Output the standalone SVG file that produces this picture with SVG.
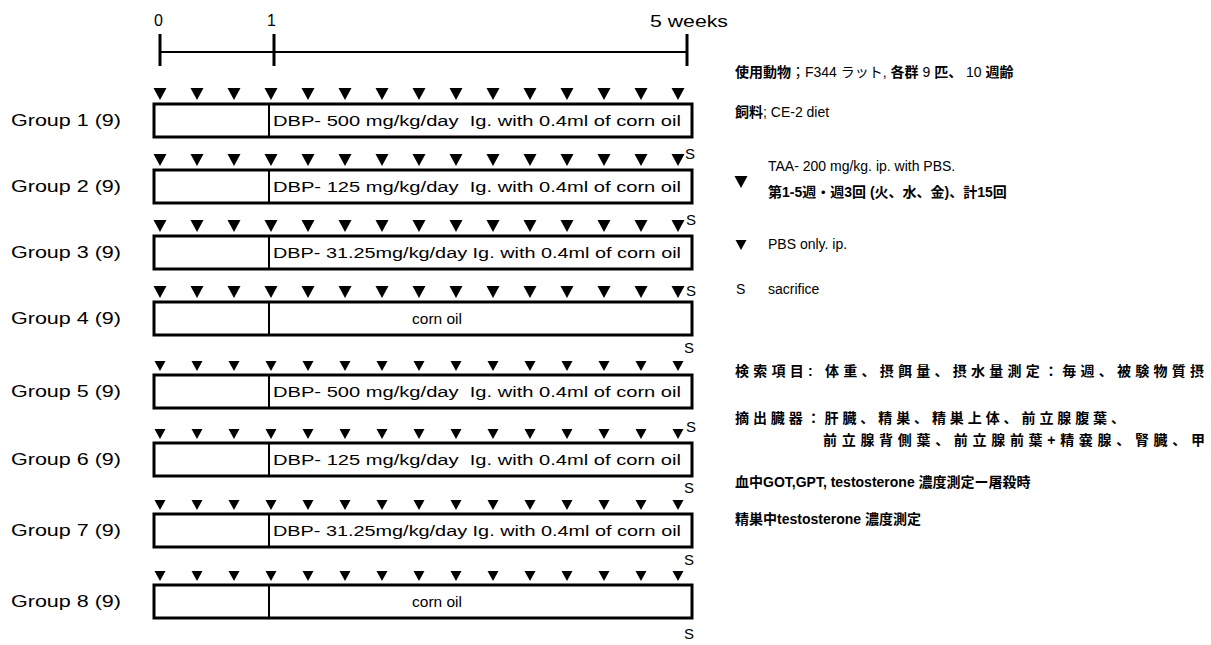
<svg xmlns="http://www.w3.org/2000/svg" xmlns:xlink="http://www.w3.org/1999/xlink" width="1211" height="645" viewBox="0 0 1211 645">
<style>
.lat{font-family:"Liberation Sans",Arial,sans-serif;fill:#000}
.lbl{font-size:16px}
.box{fill:#fff;stroke:#000;stroke-width:3}
.div{stroke:#000;stroke-width:2}
.bt{font-size:15.5px}
.s{font-size:15px}
.jp{font-family:"Liberation Sans","Noto Sans CJK JP",sans-serif;font-size:14px;font-weight:bold;fill:#000}
.rt{font-family:"Liberation Sans","Noto Sans CJK JP",sans-serif;font-size:14px;fill:#000}
.n{font-weight:normal}
</style>
<defs>
<path id="tb" d="M-6.5,0 L6.5,0 L0,12 Z" fill="#000"/>
<path id="ts" d="M-5.5,0 L5.5,0 L0,10 Z" fill="#000"/>
<g id="rowb">
<use xlink:href="#tb" x="160"/><use xlink:href="#tb" x="197"/><use xlink:href="#tb" x="234"/><use xlink:href="#tb" x="271"/><use xlink:href="#tb" x="308"/><use xlink:href="#tb" x="345"/><use xlink:href="#tb" x="382"/><use xlink:href="#tb" x="419"/><use xlink:href="#tb" x="456"/><use xlink:href="#tb" x="493"/><use xlink:href="#tb" x="530"/><use xlink:href="#tb" x="567"/><use xlink:href="#tb" x="604"/><use xlink:href="#tb" x="641"/><use xlink:href="#tb" x="678"/>
</g>
<g id="rows">
<use xlink:href="#ts" x="160"/><use xlink:href="#ts" x="197"/><use xlink:href="#ts" x="234"/><use xlink:href="#ts" x="271"/><use xlink:href="#ts" x="308"/><use xlink:href="#ts" x="345"/><use xlink:href="#ts" x="382"/><use xlink:href="#ts" x="419"/><use xlink:href="#ts" x="456"/><use xlink:href="#ts" x="493"/><use xlink:href="#ts" x="530"/><use xlink:href="#ts" x="567"/><use xlink:href="#ts" x="604"/><use xlink:href="#ts" x="641"/><use xlink:href="#ts" x="678"/>
</g>
</defs>
<rect width="1211" height="645" fill="#fff"/>

<g id="timeline">
<line x1="160" y1="52" x2="687" y2="52" stroke="#000" stroke-width="2"/>
<line x1="160" y1="34" x2="160" y2="66" stroke="#000" stroke-width="3"/>
<line x1="274" y1="34" x2="274" y2="66" stroke="#000" stroke-width="3"/>
<line x1="687" y1="34" x2="687" y2="66" stroke="#000" stroke-width="3"/>
<text class="lat" x="154" y="26" font-size="16">0</text>
<text class="lat" x="267" y="26" font-size="16">1</text>
<text class="lat" x="650" y="27" font-size="16" textLength="78" lengthAdjust="spacingAndGlyphs">5 weeks</text>
</g>

<g id="group1">
<use xlink:href="#rowb" y="88"/>
<rect class="box" x="154" y="104" width="538" height="33"/>
<line class="div" x1="269" y1="104" x2="269" y2="137"/>
<text class="lat lbl" x="11" y="126" textLength="110" lengthAdjust="spacingAndGlyphs">Group 1 (9)</text>
<text class="lat bt" x="273" y="126" textLength="408" lengthAdjust="spacingAndGlyphs">DBP- 500 mg/kg/day&#160; Ig. with 0.4ml of corn oil</text>
<text class="lat s" x="685" y="159">S</text>
</g>

<g id="group2">
<use xlink:href="#rowb" y="154"/>
<rect class="box" x="154" y="170" width="538" height="33"/>
<line class="div" x1="269" y1="170" x2="269" y2="203"/>
<text class="lat lbl" x="11" y="192" textLength="110" lengthAdjust="spacingAndGlyphs">Group 2 (9)</text>
<text class="lat bt" x="273" y="192" textLength="408" lengthAdjust="spacingAndGlyphs">DBP- 125 mg/kg/day&#160; Ig. with 0.4ml of corn oil</text>
<text class="lat s" x="686" y="225">S</text>
</g>

<g id="group3">
<use xlink:href="#rowb" y="220"/>
<rect class="box" x="154" y="236" width="538" height="33"/>
<line class="div" x1="269" y1="236" x2="269" y2="269"/>
<text class="lat lbl" x="11" y="258" textLength="110" lengthAdjust="spacingAndGlyphs">Group 3 (9)</text>
<text class="lat bt" x="273" y="258" textLength="408" lengthAdjust="spacingAndGlyphs">DBP- 31.25mg/kg/day Ig. with 0.4ml of corn oil</text>
<text class="lat s" x="686" y="296">S</text>
</g>

<g id="group4">
<use xlink:href="#rowb" y="286"/>
<rect class="box" x="154" y="302" width="538" height="33"/>
<line class="div" x1="269" y1="302" x2="269" y2="335"/>
<text class="lat lbl" x="11" y="324" textLength="110" lengthAdjust="spacingAndGlyphs">Group 4 (9)</text>
<text class="lat bt" x="437" y="324" text-anchor="middle">corn oil</text>
<text class="lat s" x="684" y="353">S</text>
</g>

<g id="group5">
<use xlink:href="#rows" y="361"/>
<rect class="box" x="154" y="375" width="538" height="33"/>
<line class="div" x1="269" y1="375" x2="269" y2="408"/>
<text class="lat lbl" x="11" y="397" textLength="110" lengthAdjust="spacingAndGlyphs">Group 5 (9)</text>
<text class="lat bt" x="273" y="397" textLength="408" lengthAdjust="spacingAndGlyphs">DBP- 500 mg/kg/day&#160; Ig. with 0.4ml of corn oil</text>
<text class="lat s" x="686" y="432">S</text>
</g>

<g id="group6">
<use xlink:href="#rows" y="429"/>
<rect class="box" x="154" y="443" width="538" height="33"/>
<line class="div" x1="269" y1="443" x2="269" y2="476"/>
<text class="lat lbl" x="11" y="465" textLength="110" lengthAdjust="spacingAndGlyphs">Group 6 (9)</text>
<text class="lat bt" x="273" y="465" textLength="408" lengthAdjust="spacingAndGlyphs">DBP- 125 mg/kg/day&#160; Ig. with 0.4ml of corn oil</text>
<text class="lat s" x="684" y="493">S</text>
</g>

<g id="group7">
<use xlink:href="#rows" y="500"/>
<rect class="box" x="154" y="514" width="538" height="33"/>
<line class="div" x1="269" y1="514" x2="269" y2="547"/>
<text class="lat lbl" x="11" y="536" textLength="110" lengthAdjust="spacingAndGlyphs">Group 7 (9)</text>
<text class="lat bt" x="273" y="536" textLength="408" lengthAdjust="spacingAndGlyphs">DBP- 31.25mg/kg/day Ig. with 0.4ml of corn oil</text>
<text class="lat s" x="684" y="565">S</text>
</g>

<g id="group8">
<use xlink:href="#rows" y="571"/>
<rect class="box" x="154" y="585" width="538" height="33"/>
<line class="div" x1="269" y1="585" x2="269" y2="618"/>
<text class="lat lbl" x="11" y="607" textLength="110" lengthAdjust="spacingAndGlyphs">Group 8 (9)</text>
<text class="lat bt" x="437" y="607" text-anchor="middle">corn oil</text>
<text class="lat s" x="684" y="639">S</text>
</g>

<g id="notes">
<text class="jp" x="735" y="77">使用動物<tspan class="n">；F344 ラット, </tspan>各群<tspan class="n"> 9 </tspan>匹、<tspan class="n"> 10 </tspan>週齢</text>
<text class="jp" x="735" y="117">飼料<tspan class="n">; CE-2 diet</tspan></text>
<use xlink:href="#tb" x="741" y="176"/>
<text class="rt" x="768" y="171" font-size="13.5">TAA- 200 mg/kg. ip. with PBS.</text>
<text class="jp" x="768" y="197">第1-5週・週3回 (火、水、金)、計15回</text>
<use xlink:href="#ts" x="741" y="240"/>
<text class="rt" x="768" y="249">PBS only. ip.</text>
<text class="rt" x="736" y="294">S</text>
<text class="rt" x="768" y="294">sacrifice</text>
<text class="jp" x="735" y="376" font-size="15" textLength="469" lengthAdjust="spacing">検索項目: 体重、摂餌量、摂水量測定：毎週、被験物質摂</text>
<text class="jp" x="735" y="423" textLength="390" lengthAdjust="spacing">摘出臓器：肝臓、精巣、精巣上体、前立腺腹葉、</text>
<text class="jp" x="823" y="445" font-size="15" textLength="382" lengthAdjust="spacing">前立腺背側葉、前立腺前葉+精嚢腺、腎臓、甲</text>
<text class="jp" x="735" y="487">血中GOT,GPT, testosterone 濃度測定ー屠殺時</text>
<text class="jp" x="735" y="524">精巣中testosterone 濃度測定</text>
</g>
</svg>
